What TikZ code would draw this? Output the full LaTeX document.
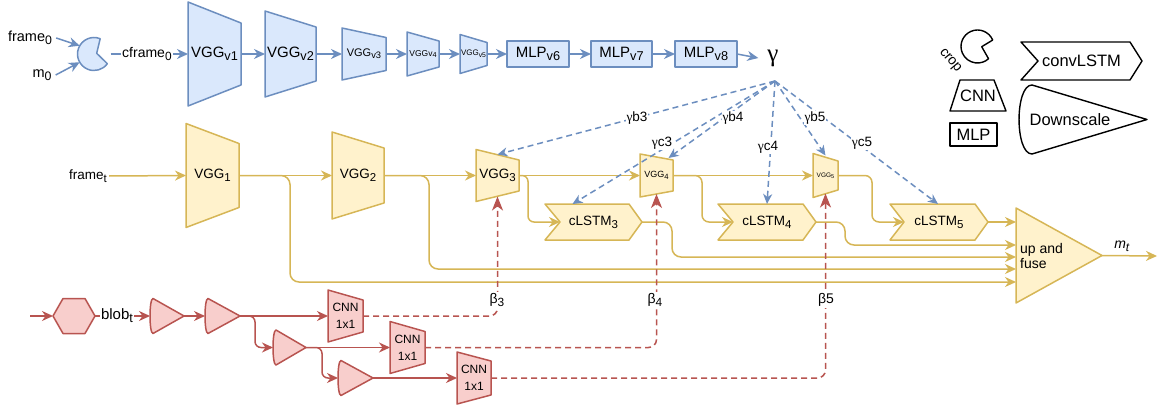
\documentclass[tikz,border=0pt]{standalone}
\usepackage{fontspec}
\setmainfont{Liberation Sans}
\newfontfamily\serifg{Liberation Serif}
\usepackage{graphicx}
\usetikzlibrary{arrows.meta,calc}
\definecolor{bfill}{HTML}{DAE8FC}
\definecolor{bline}{HTML}{6C8EBF}
\definecolor{yfill}{HTML}{FFF2CC}
\definecolor{yline}{HTML}{D6B656}
\definecolor{rfill}{HTML}{F8CECC}
\definecolor{rline}{HTML}{B85450}
\pgfdeclarelayer{bg}
\pgfsetlayers{bg,main}
\newcommand\dsub[1]{\raisebox{-0.4ex}{\scalebox{0.85}{#1}}}
\newcommand\fs[1]{\fontsize{#1}{#1}\selectfont}
\newcommand\trapshape[3]{\begin{pgfonlayer}{bg}\draw[#2] (#1.north west) -- ([yshift=-#3]#1.north east) -- ([yshift=#3]#1.south east) -- (#1.south west) -- cycle;\end{pgfonlayer}}
\newcommand\chevshape[4]{\begin{pgfonlayer}{bg}\draw[#2] (#1.north west) -- ([xshift=-#4]#1.north east) -- (#1.east) -- ([xshift=-#4]#1.south east) -- (#1.south west) -- ([xshift=#3]#1.west) -- cycle;\end{pgfonlayer}}
\newcommand\downshape[3]{\begin{pgfonlayer}{bg}\draw[#2] ([xshift=#3]#1.north west) -- (#1.east) -- ([xshift=#3]#1.south west) .. controls ([xshift=-0.33*#3]#1.south west) and ([xshift=-0.33*#3]#1.north west) .. ([xshift=#3]#1.north west) -- cycle;\end{pgfonlayer}}
\newcommand\pacshape[6]{\begin{pgfonlayer}{bg}\draw[#2] ($(#1.center)+(#6)$) -- ($(#1.center)+(#4:#3)$) arc[start angle=#4, end angle=#5, radius=#3] -- cycle;\end{pgfonlayer}}
\newcommand\hexshape[2]{\begin{pgfonlayer}{bg}\draw[#2] (#1.west) -- ([xshift=10pt]#1.north west) -- ([xshift=-10pt]#1.north east) -- (#1.east) -- ([xshift=-10pt]#1.south east) -- ([xshift=10pt]#1.south west) -- cycle;\end{pgfonlayer}}
\tikzset{
  box/.style 2 args={rectangle, inner sep=0pt, outer sep=0pt, minimum width=#1pt, minimum height=#2pt},
  bshape/.style={draw=bline, fill=bfill, line width=1.5pt, line join=round},
  yshape/.style={draw=yline, fill=yfill, line width=1.5pt, line join=round},
  rshape/.style={draw=rline, fill=rfill, line width=1.5pt, line join=round},
  kshape/.style={draw=black, fill=white, line width=1.4pt, line join=round},
  arrowA/.style={-{Stealth[length=11pt,width=10pt,inset=3.5pt]}},
  barrow/.style={draw=bline, line width=1.5pt, arrowA},
  yarrow/.style={draw=yline, line width=1.5pt, arrowA},
  rarrow/.style={draw=rline, line width=1.5pt, arrowA},
  bdash/.style={draw=bline, line width=1.5pt, dash pattern=on 6pt off 4pt, -{Stealth[length=10pt,width=9pt,inset=3pt]}},
  rdash/.style={draw=rline, line width=1.5pt, dash pattern=on 6pt off 4pt, -{Stealth[length=14pt,width=11pt,inset=4pt]}},
  lbl/.style={fill=white, inner sep=1pt},
  rc/.style={rounded corners=9pt},
}
\begin{document}
\begin{tikzpicture}[x=1pt,y=-1pt]
\useasboundingbox (0,0) rectangle (1170,412);

% ---------- blue row ----------
\node[font=\fs{14.5}, inner sep=4pt] (f0) at (30,38) {frame\dsub{0}};
\node[font=\fs{14.5}, inner sep=4pt] (m0) at (42,75) {m\dsub{0}};
\node[box={33}{33}] (crop) at (94,54) {};
\pacshape{crop}{bshape}{16.5pt}{68}{324}{2.7pt,0.7pt}
\node[box={53}{104}, font=\fs{15}] (vv1) at (214.5,54) {VGG\dsub{v1}};
\trapshape{vv1}{bshape}{21pt}
\node[box={51}{86}, font=\fs{15}] (vv2) at (290.5,54) {VGG\dsub{v2}};
\trapshape{vv2}{bshape}{16pt}
\node[box={44}{52}, font=\fs{11}] (vv3) at (364,54) {VGG\dsub{v3}};
\trapshape{vv3}{bshape}{9.5pt}
\node[box={32}{44}, font=\fs{8.5}] (vv4) at (423,54) {VGGv\dsub{4}};
\trapshape{vv4}{bshape}{9pt}
\node[box={27}{39}, font=\fs{8}] (vv5) at (473.5,54) {VGG\dsub{v5}};
\trapshape{vv5}{bshape}{8pt}
\node[box={62}{26}, bshape, font=\fs{15}] (m6) at (538,54) {MLP\dsub{v6}};
\node[box={61}{26}, bshape, font=\fs{15}] (m7) at (621.5,54) {MLP\dsub{v7}};
\node[box={62}{26}, bshape, font=\fs{15}] (m8) at (706,54) {MLP\dsub{v8}};
\node[inner xsep=9pt, inner ysep=0pt, font=\serifg\fs{25}] (gam) at (773,58) {γ};
\coordinate (g0) at (775,81);

\draw[barrow] (f0.east) -- ($(crop.center)+(150:16.5pt)$);
\draw[barrow] (m0.east) -- ($(crop.center)+(210:16.5pt)$);
\draw[barrow] (crop.east) -- node[pos=0.47, lbl, font=\fs{14}] (cf) {cframe\dsub{0}} (vv1.west);
\draw[barrow] (vv1.east) -- (vv2.west);
\draw[barrow] (vv2.east) -- (vv3.west);
\draw[barrow] (vv3.east) -- (vv4.west);
\draw[barrow] (vv4.east) -- (vv5.west);
\draw[barrow] (vv5.east) -- (m6.west);
\draw[barrow] (m6.east) -- (m7.west);
\draw[barrow] (m7.east) -- (m8.west);
\draw[barrow] (m8.east) -- (gam.west);

% ---------- yellow row ----------
\node[font=\fs{13.5}, inner sep=2pt] (ft) at (88,176) {frame\dsub{t}};
\node[box={53}{104}, font=\fs{13.5}] (vg1) at (212.5,175.5) {VGG\dsub{1}};
\trapshape{vg1}{yshape}{20pt}
\node[box={52}{87}, font=\fs{13.5}] (vg2) at (358,175.5) {VGG\dsub{2}};
\trapshape{vg2}{yshape}{16pt}
\node[box={43}{52}, font=\fs{13.5}] (vg3) at (497.5,175.5) {VGG\dsub{3}};
\trapshape{vg3}{yshape}{10.5pt}
\node[box={33}{43}, font=\fs{9}] (vg4) at (656.5,175.5) {VGG\dsub{4}};
\trapshape{vg4}{yshape}{6pt}
\node[box={25}{44}, font=\fs{6.5}] (vg5) at (825.5,175.5) {VGG\dsub{5}};
\trapshape{vg5}{yshape}{7.5pt}
\node[box={97}{36}, font=\fs{13.5}] (cl3) at (593.5,222) {cLSTM\dsub{3}};
\chevshape{cl3}{yshape}{15pt}{13pt}
\node[box={98}{36}, font=\fs{13.5}] (cl4) at (767,222) {cLSTM\dsub{4}};
\chevshape{cl4}{yshape}{15pt}{13pt}
\node[box={98}{36}, font=\fs{13.5}] (cl5) at (939,222) {cLSTM\dsub{5}};
\chevshape{cl5}{yshape}{14pt}{13pt}
\node[box={86}{95}] (fuse) at (1059,255.5) {};
\begin{pgfonlayer}{bg}\draw[yshape] (fuse.north west) -- (fuse.east) -- (fuse.south west) -- cycle;\end{pgfonlayer}
\node[anchor=west, align=left, inner sep=0pt, font=\fontsize{14}{15}\selectfont] (fusetxt) at (1020,256) {up and\\fuse};
\coordinate (fin1) at (fuse.west |- cl5.east);
\coordinate (fin2) at (1016,245);
\coordinate (fin3) at (1016,257);
\coordinate (fin4) at (1016,269);
\coordinate (fin5) at (1016,282);
\coordinate (mtend) at (1157,256);

\draw[yarrow] (ft.east) -- (vg1.west);
\draw[yarrow] (vg1.east) -- (vg2.west);
\draw[yarrow] (vg2.east) -- (vg3.west);
\draw[yarrow] (vg3.east) -- (vg4.west);
\draw[yarrow] (vg4.east) -- (vg5.west);
\draw[yarrow, rc] (vg1.east) -- ++(51pt,0pt) |- (fin5);
\draw[yarrow, rc] (vg2.east) -- ++(45pt,0pt) |- (fin4);
\draw[yarrow, rounded corners=6pt] (vg3.east) -- ++(9pt,0pt) |- ([xshift=15pt]cl3.west);
\draw[yarrow, rc] (cl3.east) -- ++(30pt,0pt) |- (fin3);
\draw[yarrow, rounded corners=7pt] (vg4.east) -- ++(29pt,0pt) |- ([xshift=15pt]cl4.west);
\draw[yarrow, rc] (cl4.east) -- ++(29pt,0pt) |- (fin2);
\draw[yarrow, rounded corners=7pt] (vg5.east) -- ++(34pt,0pt) |- ([xshift=14pt]cl5.west);
\draw[yarrow] (cl5.east) -- (fin1);
\draw[yarrow] (fuse.east) -- node[pos=0.36, above, inner sep=3pt, font=\fs{14}\itshape] (mt) {m\dsub{t}} (mtend);

% ---------- red row ----------
\coordinate (rin) at (30,316);
\node[box={42}{35}] (hex) at (74,316) {};
\hexshape{hex}{rshape}
\node[box={34}{35}] (d1) at (167,316) {};
\downshape{d1}{rshape}{3pt}
\node[box={35}{35}] (d2) at (222.5,316) {};
\downshape{d2}{rshape}{3pt}
\node[box={33}{35}] (d3) at (289.5,347.5) {};
\downshape{d3}{rshape}{3pt}
\node[box={35}{35}] (d4) at (355.5,378) {};
\downshape{d4}{rshape}{3pt}
\node[box={35}{52}, align=center, font=\fontsize{12}{17}\selectfont] (cnn1) at (345.5,316) {CNN\\1x1};
\trapshape{cnn1}{rshape}{10pt}
\node[box={35}{52}, align=center, font=\fontsize{12}{17}\selectfont] (cnn2) at (407.5,347.5) {CNN\\1x1};
\trapshape{cnn2}{rshape}{10pt}
\node[box={34}{52}, align=center, font=\fontsize{12}{17}\selectfont] (cnn3) at (474,378) {CNN\\1x1};
\trapshape{cnn3}{rshape}{9pt}

\draw[rarrow] (rin) -- (hex.west);
\draw[rarrow] (hex.east) -- node[pos=0.4, lbl, font=\fs{15}] (blob) {blob\dsub{t}} (d1.west);
\draw[rarrow] (d1.east) -- (d2.west);
\draw[rarrow] (d2.east) -- (cnn1.west);
\draw[rarrow, rounded corners=6pt] (d2.east) -- ++(15pt,0pt) |- (d3.west);
\draw[rarrow] (d3.east) -- (cnn2.west);
\draw[rarrow, rounded corners=6pt] (d3.east) -- ++(16pt,0pt) |- (d4.west);
\draw[rarrow] (d4.east) -- (cnn3.west);

\draw[rdash, rounded corners=8pt] (cnn1.east) -| ([yshift=5pt]vg3.south);
\draw[rdash, rounded corners=8pt] (cnn2.east) -| ([yshift=3pt]vg4.south);
\draw[rdash, rounded corners=8pt] (cnn3.east) -| ([yshift=4pt]vg5.south);
\node[lbl, font=\fs{14}] (b3) at (497,300) {β\dsub{3}};
\node[lbl, font=\fs{14}] (b4) at (655,300) {β\dsub{4}};
\node[lbl, font=\fs{14}] (b5) at (826,300) {β5};

% ---------- gamma dashed ----------
\draw[bdash] (g0) -- ([yshift=-5pt]vg3.north);
\draw[bdash] (g0) -- ([xshift=12pt,yshift=-4pt]vg4.north);
\draw[bdash] (g0) -- ([xshift=-21pt]cl3.north);
\draw[bdash] (g0) -- (cl4.north);
\draw[bdash] (g0) -- ([yshift=-2pt]vg5.north);
\draw[bdash] (g0) -- ([xshift=-1pt]cl5.north);
\node[lbl, inner sep=0.5pt, font=\fs{13.5}] (gb3) at (637,118) {{\serifg γ}b3};
\node[lbl, inner sep=0.5pt, font=\fs{13.5}] (gb4) at (733,118) {{\serifg γ}b4};
\node[lbl, inner sep=0.5pt, font=\fs{13.5}] (gc3) at (662,143) {{\serifg γ}c3};
\node[lbl, inner sep=0.5pt, font=\fs{13.5}] (gc4) at (768,147) {{\serifg γ}c4};
\node[lbl, inner sep=0.5pt, font=\fs{13.5}] (gb5) at (815,118) {{\serifg γ}b5};
\node[lbl, inner sep=0.5pt, font=\fs{13.5}] (gc5) at (862,143) {{\serifg γ}c5};

% ---------- legend ----------
\node[box={33}{33}] (lgcrop) at (977.5,46.5) {};
\pacshape{lgcrop}{kshape}{16.5pt}{23}{312}{4.2pt,-0.2pt}
\node[rotate=-50, inner sep=0pt, font=\fs{14}] (lgcroptxt) at (950,61) {crop};
\node[box={56}{31}, font=\fs{16.5}] (lgcnn) at (978,95.5) {CNN};
\begin{pgfonlayer}{bg}\draw[kshape] ([xshift=10pt]lgcnn.north west) -- ([xshift=-12pt]lgcnn.north east) -- (lgcnn.south east) -- (lgcnn.south west) -- cycle;\end{pgfonlayer}
\node[box={47}{23}, kshape, font=\fs{16.5}] (lgmlp) at (973.5,134.5) {MLP};
\node[box={121}{38}, font=\fs{16.5}] (lglstm) at (1081.5,61) {convLSTM};
\chevshape{lglstm}{kshape}{17pt}{12pt}
\node[box={128}{69}] (lgdown) at (1083,119.5) {};
\downshape{lgdown}{kshape}{13pt}
\node[font=\fs{16.5}] (lgdowntxt) at (1070,120) {Downscale};
\end{tikzpicture}
\end{document}
